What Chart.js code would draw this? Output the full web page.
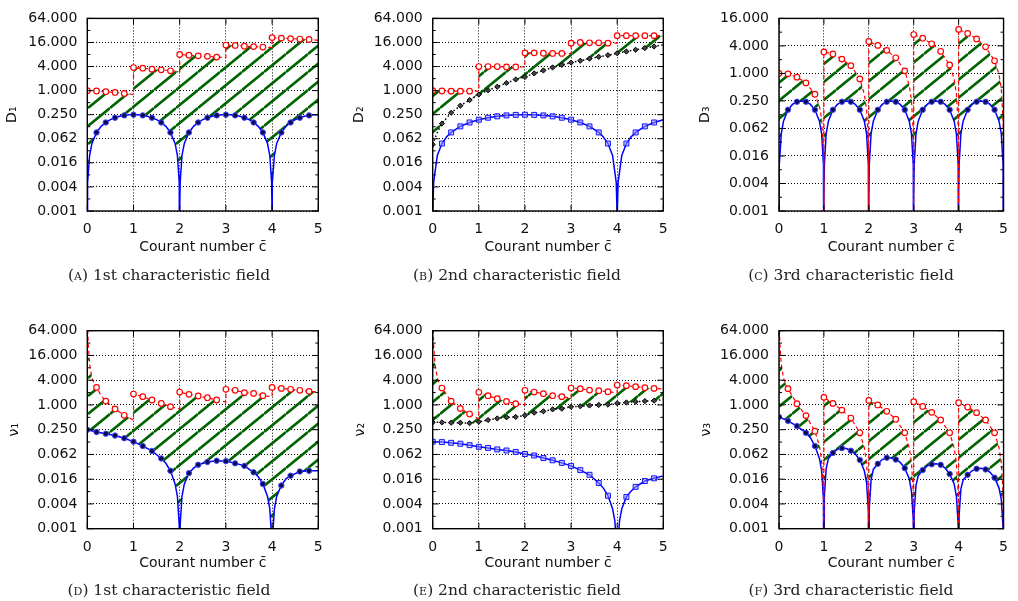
<!DOCTYPE html>
<html>
<head>
<meta charset="utf-8">
<script src="https://cdn.jsdelivr.net/npm/chart.js@4.4.0/dist/chart.umd.min.js"></script>
<style>
  body { margin: 0; background: #fff; }
  #wrap { position: relative; width: 1018px; height: 601px; overflow: hidden; }
  canvas { position: absolute; left: 0; top: 0; pointer-events: none; }
  .cap { position: absolute; font-family: "DejaVu Serif", serif; font-size: 15.5px; line-height: 20px;
         color: #222; white-space: nowrap; transform: translateX(-50%); }
  .sc { font-variant: small-caps; }
</style>
</head>
<body>
<div id="wrap">
  <canvas id="pA" width="1018" height="601"></canvas>
  <canvas id="pB" width="1018" height="601"></canvas>
  <canvas id="pC" width="1018" height="601"></canvas>
  <canvas id="pD" width="1018" height="601"></canvas>
  <canvas id="pE" width="1018" height="601"></canvas>
  <canvas id="pF" width="1018" height="601"></canvas>
  <div class="cap" style="left:169px; top:265px">(<span class="sc">a</span>) 1st characteristic field</div>
  <div class="cap" style="left:517px; top:265px">(<span class="sc">b</span>) 2nd characteristic field</div>
  <div class="cap" style="left:851px; top:265px">(<span class="sc">c</span>) 3rd characteristic field</div>
  <div class="cap" style="left:169px; top:580px">(<span class="sc">d</span>) 1st characteristic field</div>
  <div class="cap" style="left:517px; top:580px">(<span class="sc">e</span>) 2nd characteristic field</div>
  <div class="cap" style="left:851px; top:580px">(<span class="sc">f</span>) 3rd characteristic field</div>
</div>
<script>
// ticks and labels
const xTicks = [0, 1, 2, 3, 4, 5];
const yTicks = [0.0009765625, 0.00390625, 0.015625, 0.0625, 0.25, 1, 4, 16, 64];
const yLabels = ["0.001", "0.004", "0.016", "0.062", "0.250", "1.000", "4.000", "16.000", "64.000"];
const xTitle = "Courant number c\u0304";
const yTitles = ["D₁", "D₂", "D₃", "ν₁", "ν₂", "ν₃"];

// (A) D1
const redA = [[0,1.0],[0.2,0.98],[0.4,0.94],[0.6,0.90],[0.8,0.85],[1,0.80],
  [1,3.78],[1.2,3.64],[1.4,3.44],[1.6,3.31],[1.8,3.13],[2,3.0],
  [2,8.0],[2.2,7.7],[2.4,7.4],[2.6,7.2],[2.8,6.9],[3,6.7],
  [3,13.8],[3.2,13.5],[3.4,12.9],[3.6,12.6],[3.8,12.3],[4,12.0],
  [4,21.2],[4.2,20.6],[4.4,20.0],[4.6,19.5],[4.8,19.0],[5,18.1]];
const blueA = [[0,1e-6],[0.002,0.001],[0.01,0.005],[0.05,0.024],[0.1,0.048],[0.2,0.090],[0.3,0.128],[0.4,0.160],
  [0.5,0.188],[0.6,0.210],[0.7,0.228],[0.8,0.240],[0.9,0.248],[1.0,0.250],[1.1,0.248],[1.2,0.240],[1.3,0.228],
  [1.4,0.210],[1.5,0.188],[1.6,0.160],[1.7,0.128],[1.8,0.090],[1.9,0.048],[1.95,0.024],[1.99,0.005],[1.998,0.001],
  [2,1e-6],[2.002,0.001],[2.01,0.005],[2.05,0.024],[2.1,0.048],[2.2,0.090],[2.3,0.128],[2.4,0.160],[2.5,0.188],
  [2.6,0.210],[2.7,0.228],[2.8,0.240],[2.9,0.248],[3.0,0.250],[3.1,0.248],[3.2,0.240],[3.3,0.228],[3.4,0.210],
  [3.5,0.188],[3.6,0.160],[3.7,0.128],[3.8,0.090],[3.9,0.048],[3.95,0.024],[3.99,0.005],[3.998,0.001],[4,1e-6],
  [4.002,0.001],[4.01,0.005],[4.05,0.024],[4.1,0.048],[4.2,0.090],[4.3,0.128],[4.4,0.160],[4.5,0.188],[4.6,0.210],
  [4.7,0.228],[4.8,0.240],[4.9,0.248],[5.0,0.250]];

// (B) D2
const redB = [[0,1.0],[0.2,0.98],[0.4,0.97],[0.6,0.97],[0.8,0.97],[1,0.97],
  [1,4.0],[1.2,4.0],[1.4,4.0],[1.6,3.9],[1.8,3.9],[2,3.9],
  [2,8.8],[2.2,8.8],[2.4,8.6],[2.6,8.5],[2.8,8.5],[3,8.4],
  [3,15.4],[3.2,16.0],[3.4,15.7],[3.6,15.7],[3.8,15.4],[4,15.4],
  [4,23.7],[4.2,23.7],[4.4,23.7],[4.6,23.7],[4.8,23.7],[5,23.7]];
const blackB = [[0,0.045],[0.1,0.09],[0.2,0.15],[0.4,0.28],[0.6,0.42],[0.8,0.58],[1.0,0.8],[1.2,1.02],[1.4,1.25],
  [1.6,1.55],[1.8,1.9],[2.0,2.2],[2.2,2.7],[2.4,3.2],[2.6,3.8],[2.8,4.4],[3.0,5.0],[3.2,5.6],[3.4,6.3],[3.6,7.0],
  [3.8,7.7],[4.0,8.6],[4.2,9.5],[4.4,10.5],[4.6,11.6],[4.8,12.7],[5.0,14.0]];
const blueB = [[0,1e-6],[0.004,0.001],[0.02,0.005],[0.1,0.024],[0.2,0.0475],[0.3,0.069],[0.4,0.09],[0.6,0.1275],
  [0.8,0.16],[1.0,0.1875],[1.2,0.21],[1.4,0.2275],[1.6,0.24],[1.8,0.2475],[2.0,0.25],[2.2,0.2475],[2.4,0.24],
  [2.6,0.2275],[2.8,0.21],[3.0,0.1875],[3.2,0.16],[3.4,0.1275],[3.6,0.09],[3.7,0.069],[3.8,0.0475],[3.9,0.024],
  [3.98,0.005],[3.996,0.001],[4.0,1e-6],[4.004,0.001],[4.02,0.005],[4.1,0.024],[4.2,0.0475],[4.3,0.069],[4.4,0.09],
  [4.6,0.1275],[4.8,0.16],[5.0,0.1875]];

// (C) D3
const redC = [[0,1.0],[0.2,0.98],[0.4,0.83],[0.6,0.62],[0.8,0.35],[0.9,0.19],[0.95,0.1],[0.99,0.02],[0.998,0.004],[1,1e-6],
  [1,2.95],[1.2,2.67],[1.4,2.06],[1.6,1.48],[1.8,0.76],[1.9,0.35],[1.95,0.16],[1.99,0.03],[1.998,0.006],[2,1e-6],
  [2,5.0],[2.2,4.1],[2.4,3.2],[2.6,2.2],[2.8,1.14],[2.9,0.55],[2.95,0.26],[2.99,0.05],[2.998,0.01],[3,1e-6],
  [3,7.1],[3.2,5.9],[3.4,4.45],[3.6,3.05],[3.8,1.53],[3.9,0.75],[3.95,0.36],[3.99,0.07],[3.998,0.014],[4,1e-6],
  [4,9.2],[4.2,7.5],[4.4,5.7],[4.6,3.83],[4.8,1.89],[4.9,0.95],[4.95,0.45],[4.99,0.09],[4.998,0.018],[5,1e-6]];
const blueC = [[0,1e-6],[0.002,0.002],[0.01,0.0099],[0.05,0.0475],[0.1,0.09],[0.2,0.16],[0.3,0.21],[0.4,0.24],[0.5,0.25],
  [0.6,0.24],[0.7,0.21],[0.8,0.16],[0.9,0.09],[0.95,0.0475],[0.99,0.0099],[0.998,0.002],
  [1,1e-6],[1.002,0.002],[1.01,0.0099],[1.05,0.0475],[1.1,0.09],[1.2,0.16],[1.3,0.21],[1.4,0.24],[1.5,0.25],
  [1.6,0.24],[1.7,0.21],[1.8,0.16],[1.9,0.09],[1.95,0.0475],[1.99,0.0099],[1.998,0.002],
  [2,1e-6],[2.002,0.002],[2.01,0.0099],[2.05,0.0475],[2.1,0.09],[2.2,0.16],[2.3,0.21],[2.4,0.24],[2.5,0.25],
  [2.6,0.24],[2.7,0.21],[2.8,0.16],[2.9,0.09],[2.95,0.0475],[2.99,0.0099],[2.998,0.002],
  [3,1e-6],[3.002,0.002],[3.01,0.0099],[3.05,0.0475],[3.1,0.09],[3.2,0.16],[3.3,0.21],[3.4,0.24],[3.5,0.25],
  [3.6,0.24],[3.7,0.21],[3.8,0.16],[3.9,0.09],[3.95,0.0475],[3.99,0.0099],[3.998,0.002],
  [4,1e-6],[4.002,0.002],[4.01,0.0099],[4.05,0.0475],[4.1,0.09],[4.2,0.16],[4.3,0.21],[4.4,0.24],[4.5,0.25],
  [4.6,0.24],[4.7,0.21],[4.8,0.16],[4.9,0.09],[4.95,0.0475],[4.99,0.0099],[4.998,0.002],[5,1e-6]];

// (D) nu1
const redD = [[0.005,100],[0.02,30],[0.05,10],[0.1,4.5],[0.15,3.3],[0.2,2.67],[0.3,1.7],[0.4,1.24],[0.6,0.8],[0.8,0.56],[1,0.43],
  [1,1.84],[1.2,1.59],[1.4,1.32],[1.6,1.09],[1.8,0.91],[2,0.8],
  [2,2.06],[2.2,1.81],[2.4,1.65],[2.6,1.5],[2.8,1.32],[3,1.18],
  [3,2.4],[3.2,2.27],[3.4,1.99],[3.6,1.91],[3.8,1.68],[4,1.59],
  [4,2.67],[4.2,2.53],[4.4,2.4],[4.6,2.27],[4.8,2.14],[5,2.06]];
const blueD = [[0,0.25],[0.2,0.22],[0.4,0.20],[0.6,0.18],[0.8,0.155],[1.0,0.128],[1.2,0.10],[1.4,0.076],[1.6,0.05],
  [1.7,0.038],[1.8,0.025],[1.9,0.012],[1.95,0.006],[1.99,0.0012],[2.0,1e-6],[2.01,0.0012],[2.05,0.006],[2.1,0.012],
  [2.2,0.022],[2.3,0.029],[2.4,0.035],[2.6,0.041],[2.8,0.044],[3.0,0.043],[3.2,0.038],[3.4,0.033],[3.6,0.023],
  [3.7,0.018],[3.8,0.012],[3.9,0.006],[3.95,0.003],[3.99,0.0006],[4.0,1e-6],[4.01,0.0006],[4.05,0.003],[4.1,0.006],
  [4.2,0.011],[4.3,0.016],[4.4,0.019],[4.6,0.024],[4.8,0.025],[5.0,0.025]];

// (E) nu2
const redE = [[0.005,100],[0.02,30],[0.05,10],[0.1,4.5],[0.15,3.2],[0.2,2.58],[0.4,1.24],[0.6,0.82],[0.8,0.6],[1,0.46],
  [1,2.03],[1.2,1.68],[1.4,1.42],[1.6,1.22],[1.8,1.07],[2,0.98],
  [2,2.27],[2.2,2.06],[2.4,1.88],[2.6,1.68],[2.8,1.59],[3,1.45],
  [3,2.58],[3.2,2.49],[3.4,2.3],[3.6,2.22],[3.8,2.1],[4,1.96],
  [4,3.05],[4.2,2.95],[4.4,2.79],[4.6,2.63],[4.8,2.53],[5,2.44]];
const blackE = [[0,0.377],[0.2,0.377],[0.4,0.37],[0.6,0.37],[0.8,0.36],[1,0.39],[1.2,0.43],[1.4,0.47],[1.6,0.5],
  [1.8,0.51],[2,0.56],[2.2,0.65],[2.4,0.7],[2.6,0.78],[2.8,0.81],[3,0.9],[3.2,0.93],[3.4,0.97],[3.6,1.0],[3.8,1.02],
  [4,1.1],[4.2,1.15],[4.4,1.2],[4.6,1.24],[4.8,1.27],[5,1.35]];
const blueE = [[0,0.128],[0.2,0.125],[0.4,0.12],[0.6,0.114],[0.8,0.105],[1.0,0.096],[1.2,0.09],[1.4,0.083],[1.6,0.078],
  [1.8,0.072],[2.0,0.064],[2.2,0.059],[2.4,0.051],[2.6,0.045],[2.8,0.039],[3.0,0.033],[3.2,0.026],[3.4,0.02],
  [3.6,0.0126],[3.7,0.0095],[3.8,0.0062],[3.9,0.003],[3.95,0.0015],[3.99,0.0003],[4.0,1e-6],[4.01,0.0003],
  [4.05,0.0015],[4.1,0.003],[4.2,0.0058],[4.3,0.008],[4.4,0.0102],[4.6,0.0141],[4.8,0.0164],[5.0,0.0188]];

// (F) nu3
const redF = [[0.005,100],[0.02,30],[0.05,10],[0.1,4.5],[0.15,3.3],[0.2,2.49],[0.4,1.07],[0.6,0.55],[0.8,0.23],[0.9,0.1],[0.95,0.045],[0.99,0.008],[1,1e-6],
  [1,1.53],[1.2,1.09],[1.4,0.75],[1.6,0.48],[1.8,0.21],[1.9,0.09],[1.95,0.04],[1.99,0.007],[2,1e-6],
  [2,1.29],[2.2,1.0],[2.4,0.7],[2.6,0.45],[2.8,0.21],[2.9,0.09],[2.95,0.04],[2.99,0.007],[3,1e-6],
  [3,1.2],[3.2,0.92],[3.4,0.66],[3.6,0.43],[3.8,0.21],[3.9,0.09],[3.95,0.04],[3.99,0.007],[4,1e-6],
  [4,1.13],[4.2,0.89],[4.4,0.65],[4.6,0.43],[4.8,0.21],[4.9,0.09],[4.95,0.04],[4.99,0.007],[5,1e-6]];
const blueF = [[0,0.51],[0.2,0.41],[0.4,0.307],[0.6,0.21],[0.7,0.16],[0.8,0.10],[0.9,0.05],[0.95,0.025],[0.99,0.005],[1,1e-6],
  [1.01,0.006],[1.05,0.028],[1.1,0.05],[1.2,0.068],[1.3,0.083],[1.4,0.089],[1.5,0.087],[1.6,0.077],[1.7,0.064],
  [1.8,0.046],[1.9,0.025],[1.95,0.013],[1.99,0.0026],[2,1e-6],
  [2.01,0.003],[2.05,0.015],[2.1,0.027],[2.2,0.037],[2.3,0.047],[2.4,0.052],[2.5,0.051],[2.6,0.047],[2.7,0.04],
  [2.8,0.029],[2.9,0.016],[2.95,0.008],[2.99,0.0016],[3,1e-6],
  [3.01,0.0025],[3.05,0.011],[3.1,0.019],[3.2,0.026],[3.3,0.033],[3.4,0.036],[3.5,0.037],[3.6,0.035],[3.7,0.029],
  [3.8,0.021],[3.9,0.012],[3.95,0.006],[3.99,0.0012],[4,1e-6],
  [4.01,0.002],[4.05,0.009],[4.1,0.015],[4.2,0.02],[4.3,0.025],[4.4,0.028],[4.5,0.029],[4.6,0.027],[4.7,0.023],
  [4.8,0.017],[4.9,0.0095],[4.95,0.005],[4.99,0.001],[5,1e-6]];

// layout of each panel: y-axis left edge, plot left/right/top/bottom, x-axis height
const panels = [
  { id: "pA", red: redA, blue: blueA, black: null, ymax: 64, box: [0, 87.3, 318.3, 14.3, 211, 48.4], squares: false },
  { id: "pB", red: redB, blue: blueB, black: blackB, ymax: 64, box: [347, 432.7, 663.3, 14.3, 211, 48.4], squares: true },
  { id: "pC", red: redC, blue: blueC, black: null, ymax: 16, box: [693, 779, 1010, 14.3, 211, 48.4], squares: false },
  { id: "pD", red: redD, blue: blueD, black: null, ymax: 64, box: [1.6, 87.3, 318.3, 330.7, 528.7, 47], squares: false },
  { id: "pE", red: redE, blue: blueE, black: blackE, ymax: 64, box: [348, 432.7, 663.3, 330.7, 528.7, 47], squares: true },
  { id: "pF", red: redF, blue: blueF, black: null, ymax: 64, box: [694, 779, 1010, 330.7, 528.7, 47], squares: false }
];

const font = { family: "'DejaVu Sans', sans-serif", size: 14 };
const ink = "#111";

function hatch(ctx) {
  const w = 22, h = 18;
  const c = document.createElement("canvas");
  c.width = w; c.height = h;
  const g = c.getContext("2d");
  g.strokeStyle = "rgb(0,100,0)";
  g.lineWidth = 2.6;
  g.beginPath();
  for (let k = -1; k <= 1; k++) {
    g.moveTo(0, h + k * h);
    g.lineTo(w, k * h);
  }
  g.stroke();
  return ctx.createPattern(c, "repeat");
}

// marker every 0.2, not on the left side of a jump, not at the right end
function isMark(c) {
  const d = c.dataset.data, i = c.dataIndex, p = d[i];
  if (!p) return false;
  const k = p[0] * 5;
  if (Math.abs(k - Math.round(k)) > 1e-6 || p[0] > 4.9) return false;
  if (d[i + 1] && d[i + 1][0] === p[0]) return false;
  return p[1] > 0.001;
}

const framePlugin = {
  id: "frame",
  afterDraw(chart) {
    const { ctx, chartArea: a, scales: { x, y } } = chart;
    ctx.save();
    ctx.strokeStyle = "#000";
    ctx.lineWidth = 1;
    ctx.beginPath();
    y.ticks.forEach(t => {
      const py = y.getPixelForValue(t.value);
      ctx.moveTo(a.left, py); ctx.lineTo(a.left + 6, py);
      ctx.moveTo(a.right, py); ctx.lineTo(a.right - 6, py);
      if (t.value * 2 < y.max) {
        const pm = y.getPixelForValue(t.value * 2);
        ctx.moveTo(a.left, pm); ctx.lineTo(a.left + 3, pm);
        ctx.moveTo(a.right, pm); ctx.lineTo(a.right - 3, pm);
      }
    });
    x.ticks.forEach(t => {
      const px = x.getPixelForValue(t.value);
      ctx.moveTo(px, a.bottom); ctx.lineTo(px, a.bottom - 6);
      ctx.moveTo(px, a.top); ctx.lineTo(px, a.top + 6);
    });
    ctx.stroke();
    ctx.lineWidth = 1.4;
    ctx.strokeRect(a.left, a.top, a.right - a.left, a.bottom - a.top);
    ctx.restore();
  }
};

panels.forEach((p, n) => {
  const el = document.getElementById(p.id);
  const ctx = el.getContext("2d");
  const [ax, L, R, T, B, xh] = p.box;
  const ticks = yTicks.filter(v => v <= p.ymax);

  const datasets = [{
    data: p.red,
    borderColor: "rgb(255,0,0)",
    borderWidth: 1.2,
    borderDash: [4, 3],
    backgroundColor: hatch(ctx),
    fill: p.black ? 2 : 1,
    pointStyle: "circle",
    pointRadius: c => isMark(c) ? 2.8 : 0,
    pointBorderColor: "rgb(255,0,0)",
    pointBackgroundColor: "#fff",
    pointBorderWidth: 1.2
  }, {
    data: p.blue,
    borderColor: "rgb(0,0,255)",
    borderWidth: 1.5,
    fill: false,
    pointStyle: p.squares ? "rect" : "circle",
    pointRadius: c => isMark(c) ? (p.squares ? 3.5 : 2.7) : 0,
    pointBorderColor: p.squares ? "rgb(20,20,255)" : "rgb(70,70,255)",
    pointBackgroundColor: p.squares ? "rgba(150,150,255,0.5)" : "#0b0b55",
    pointBorderWidth: 1
  }];
  if (p.black) {
    datasets.push({
      data: p.black,
      borderColor: "#000",
      borderWidth: 1.5,
      borderDash: [1.5, 2.5],
      fill: false,
      pointStyle: "rectRot",
      pointRadius: c => isMark(c) ? 2.6 : 0,
      pointBorderColor: "#000",
      pointBackgroundColor: "#444",
      pointBorderWidth: 1
    });
  }

  new Chart(el, {
    type: "line",
    data: { datasets },
    options: {
      responsive: false,
      animation: false,
      events: [],
      layout: { padding: { left: ax, top: T, right: 1018 - R, bottom: 601 - B - xh } },
      plugins: {
        legend: { display: false },
        tooltip: { enabled: false },
        filler: { drawTime: "beforeDatasetsDraw" }
      },
      scales: {
        x: {
          type: "linear", min: 0, max: 5,
          afterFit: s => { s.height = xh; },
          afterBuildTicks: s => { s.ticks = xTicks.map(v => ({ value: v })); },
          ticks: { padding: 10, font, color: ink, maxRotation: 0, autoSkip: false, callback: v => String(v) },
          grid: { color: "#000", lineWidth: 1, drawTicks: false },
          border: { display: false, dash: [1, 2] },
          title: { display: true, text: xTitle, font, color: ink, padding: { top: 4, bottom: 4 } }
        },
        y: {
          type: "logarithmic", min: yTicks[0], max: p.ymax, bounds: "data",
          afterFit: s => { s.width = L - ax; },
          afterBuildTicks: s => { s.ticks = ticks.map(v => ({ value: v })); },
          ticks: { padding: 10, font, color: ink, autoSkip: false, callback: (v, i) => yLabels[i] },
          grid: { color: "#000", lineWidth: 1, drawTicks: false },
          border: { display: false, dash: [1, 2] },
          title: { display: true, text: yTitles[n], font, color: ink, padding: { top: 4, bottom: 4 } }
        }
      }
    },
    plugins: [framePlugin]
  });
});
</script>
</body>
</html>
